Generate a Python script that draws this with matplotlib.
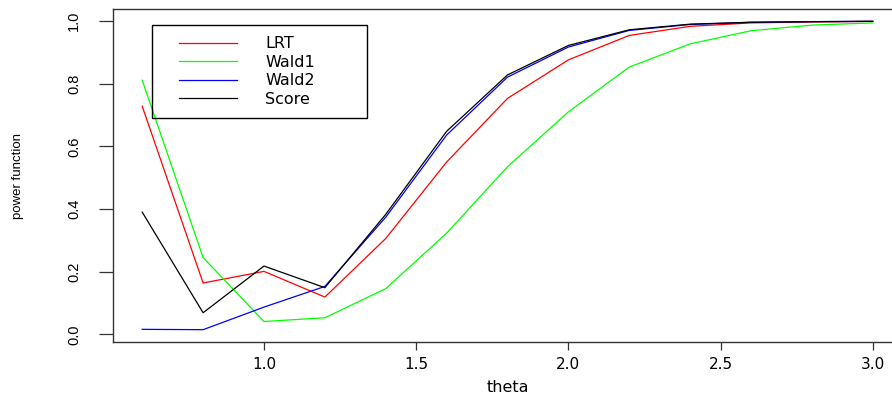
import numpy as np
import matplotlib
matplotlib.use("Agg")
import matplotlib.pyplot as plt
from matplotlib.patches import Rectangle

# data
theta = [0.6, 0.8, 1.0, 1.2, 1.4, 1.6, 1.8, 2.0, 2.2, 2.4, 2.6, 2.8, 3.0]
lrt   = [0.728, 0.164, 0.201, 0.119, 0.306, 0.550, 0.753, 0.876, 0.954, 0.983, 0.994, 0.997, 0.999]
wald1 = [0.811, 0.245, 0.041, 0.053, 0.146, 0.323, 0.535, 0.710, 0.853, 0.927, 0.969, 0.987, 0.994]
wald2 = [0.016, 0.015, 0.087, 0.153, 0.374, 0.636, 0.821, 0.917, 0.970, 0.989, 0.996, 0.998, 0.999]
score = [0.390, 0.069, 0.218, 0.149, 0.383, 0.648, 0.828, 0.922, 0.972, 0.990, 0.996, 0.998, 0.999]

labels = ["LRT", "Wald1", "Wald2", "Score"]
colors = ["#ff0000", "#00ff00", "#0000ff", "#000000"]
xticks = [1.0, 1.5, 2.0, 2.5, 3.0]
yticks = [0.0, 0.2, 0.4, 0.6, 0.8, 1.0]

W, H = 892, 399
fig = plt.figure(figsize=(W / 100, H / 100), dpi=100)
# plot region: left 113px, top 9px, bottom 342px, right runs past the image edge (902px)
ax = fig.add_axes([113 / W, (H - 342) / H, (902 - 113) / W, (342 - 9) / H])

for y, c, lab in zip([lrt, wald1, wald2, score], colors, labels):
    ax.plot(theta, y, color=c, lw=0.9, label=lab)

# R-style 4% padding
xr = max(theta) - min(theta)
ax.set_xlim(min(theta) - 0.04 * xr, max(theta) + 0.04 * xr)
ymin = min(min(lrt), min(wald1), min(wald2), min(score))
ymax = max(max(lrt), max(wald1), max(wald2), max(score))
yr = ymax - ymin
ax.set_ylim(ymin - 0.04 * yr, ymax + 0.04 * yr)

ax.set_xticks(xticks)
ax.set_xticklabels(["%.1f" % v for v in xticks], family="DejaVu Sans", fontsize=11)
ax.set_yticks(yticks)
ax.set_yticklabels(["%.1f" % v for v in yticks], rotation=90, va="center",
                   family="Liberation Sans", fontsize=10.5)
ax.tick_params(axis="x", direction="out", length=6, width=0.9, pad=5, color="#333333")
ax.tick_params(axis="y", direction="out", length=10, width=0.9, pad=13, color="#333333")
for s in ax.spines.values():
    s.set_linewidth(1.0)
    s.set_color("#333333")
ax.spines["right"].set_visible(False)

fig.text(508 / W, 1 - 388 / H, "theta", ha="center", va="center",
         family="DejaVu Sans", fontsize=11.5)
fig.text(18 / W, 1 - 176 / H, "power function", ha="center", va="center",
         rotation=90, family="Liberation Sans", fontsize=9.5)

# legend box
fig.patches.append(Rectangle((152 / W, 1 - 118 / H), (367 - 152) / W, (118 - 25) / H,
                             transform=fig.transFigure, fill=False, edgecolor="black", lw=1.0))
leg = ax.legend(loc="upper left", bbox_to_anchor=(176 / W, 1 - 33 / H),
                bbox_transform=fig.transFigure, frameon=False,
                prop={"family": "DejaVu Sans", "size": 11.5},
                handlelength=3.6, handletextpad=1.8, labelspacing=0.22,
                borderpad=0.2, borderaxespad=0)

fig.savefig("out.png", dpi=100)
